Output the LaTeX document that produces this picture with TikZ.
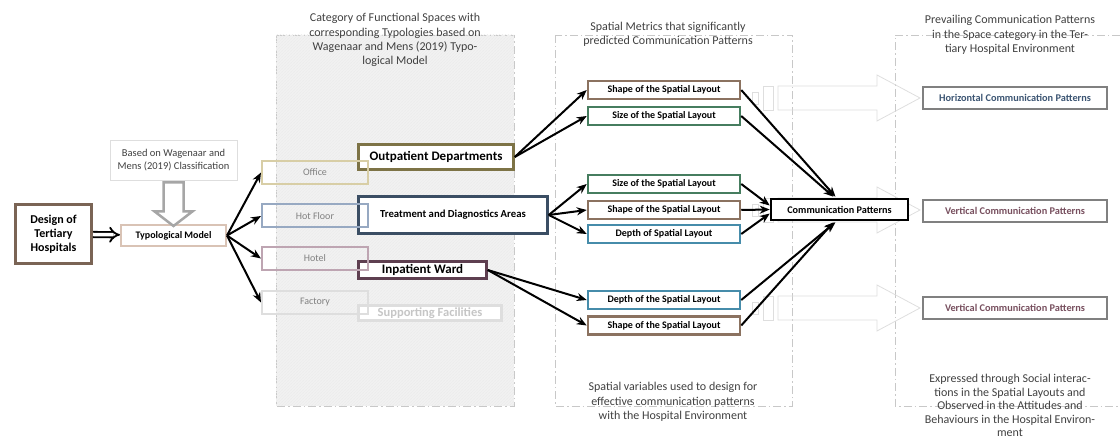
\documentclass[tikz,border=0pt]{standalone}
\usepackage{fontspec}
\setmainfont{Carlito}
\usepackage{xcolor}
\usetikzlibrary{shapes,arrows,arrows.meta,positioning,calc,patterns}
\definecolor{designbrown}{RGB}{122,100,85}
\definecolor{typotan}{RGB}{217,195,181}
\definecolor{officetan}{RGB}{216,206,166}
\definecolor{hotblue}{RGB}{151,169,194}
\definecolor{hotelmauve}{RGB}{190,165,178}
\definecolor{faintgray}{RGB}{222,222,222}
\definecolor{outolive}{RGB}{125,115,70}
\definecolor{treatblue}{RGB}{59,78,100}
\definecolor{inmauve}{RGB}{94,63,80}
\definecolor{shapebrown}{RGB}{139,114,96}
\definecolor{sizegreen}{RGB}{70,125,95}
\definecolor{depthteal}{RGB}{70,140,170}
\definecolor{resultgray}{RGB}{128,128,128}
\definecolor{horizblue}{RGB}{60,85,115}
\definecolor{vertmauve}{RGB}{120,80,95}
\definecolor{titlegray}{RGB}{64,64,64}
\definecolor{regiongray}{RGB}{200,200,200}

\tikzset{
  box/.style={draw, rectangle, inner sep=0pt, align=center},
  typology/.style={box, line width=2pt, minimum width=106pt, minimum height=23pt,
    text=gray, font=\fontsize{10}{11}\selectfont},
  category/.style={box, fill=white, line width=2.5pt, font=\bfseries\fontsize{13}{14}\selectfont},
  metric/.style={box, fill=white, line width=2.5pt, minimum width=152pt, minimum height=18pt,
    font=\bfseries\fontsize{10}{11}\selectfont},
  result/.style={box, fill=white, draw=resultgray, line width=2.5pt, minimum width=184pt,
    minimum height=22pt, font=\bfseries\fontsize{10.3}{11}\selectfont},
  title/.style={align=center, text=titlegray, font=\fontsize{12}{14.2}\selectfont},
  region/.style={draw=regiongray, line width=0.8pt, dash pattern=on 8pt off 3pt on 1.5pt off 3pt},
  link/.style={draw, line width=2pt, -{Stealth[length=10pt,width=8pt]}},
  blockarrow/.style={draw=faintgray, line width=0.8pt}
}

\begin{document}
\begin{tikzpicture}[x=1pt,y=-1pt]
\useasboundingbox (0,0) rectangle (1120,438);

% Column frames
\draw[region, fill=gray!10] (276,35) rectangle (514,406);
\fill[pattern=north east lines, pattern color=gray!15] (276,35) rectangle (514,406);
\draw[region] (555,35) rectangle (792,406);
\draw[region] (1120,35) -- (895,35) -- (895,406) -- (1120,406);

% Column titles
\node[title] (cattitle) at (395,40) {Category of Functional Spaces with\\corresponding Typologies based on\\Wagenaar and Mens (2019) Typo-\\logical Model};
\node[title] (mettitle) at (668,34.5) {Spatial Metrics that significantly\\predicted Communication Patterns};
\node[title] (pattitle) at (1010,35) {Prevailing Communication Patterns\\in the Space category in the Ter-\\tiary Hospital Environment};
\node[title] (metnote) at (673,402) {Spatial variables used to design for\\effective communication patterns\\with the Hospital Environment};
\node[title, font=\fontsize{12}{13.4}\selectfont] (patnote) at (1010,405.5) {Expressed through Social interac-\\tions in the Spatial Layouts and\\Observed in the Attitudes and\\Behaviours in the Hospital Environ-\\ment};

% Design and typological model
\node[box, draw=designbrown, line width=3pt, minimum width=76pt, minimum height=59pt,
  font=\bfseries\fontsize{12}{14}\selectfont] (design) at (53.5,234) {Design of\\Tertiary\\Hospitals};
\node[box, draw=typotan, line width=2pt, minimum width=105pt, minimum height=21pt,
  font=\bfseries\fontsize{10}{11}\selectfont] (typo) at (173.5,235.5) {Typological Model};
\node[box, draw=faintgray, line width=0.8pt, minimum width=127pt, minimum height=40pt,
  text=titlegray, font=\fontsize{10.5}{13}\selectfont] (based) at (173.5,160) {Based on Wagenaar and\\Mens (2019) Classification};

\draw[line width=2.5pt, draw=gray!70, fill=white, line join=miter]
  ($(based.south)+(-10,2)$) -- ++(20,0) -- ++(0,29) -- ++(9,0) -- ($(typo.north)+(0,2)$)
  -- ($(based.south)+(-19,31)$) -- ++(9,0) -- cycle;
\draw[double, double distance=3.5pt, line width=1.8pt, -implies] (design) -- (typo);

% Categories of functional spaces
\node[category, draw=outolive, minimum width=155pt, minimum height=25pt] (outpat) at (436,157) {Outpatient Departments};
\node[category, draw=treatblue, minimum width=189pt, minimum height=37pt,
  font=\bfseries\fontsize{10.7}{12}\selectfont] (treat) at (453,215) {Treatment and Diagnostics Areas};
\node[category, draw=inmauve, minimum width=128pt, minimum height=17pt] (inpat) at (422.5,270) {Inpatient Ward};
\node[category, draw=faintgray, text=gray!45, minimum width=143pt, minimum height=15pt,
  font=\bfseries\fontsize{12.5}{14}\selectfont] (support) at (430,313) {Supporting Facilities};

% Typologies
\node[typology, draw=officetan] (office) at (315,172.5) {Office};
\node[typology, draw=hotblue] (hotfloor) at (315,216) {Hot Floor};
\node[typology, draw=hotelmauve] (hotel) at (315,258.5) {Hotel};
\node[typology, draw=faintgray] (factory) at (315,302.5) {Factory};

\draw[link] (typo.east) -- (office.west);
\draw[link] (typo.east) -- (hotfloor.west);
\draw[link] (typo.east) -- (hotel.west);
\draw[link] (typo.east) -- (factory.west);

% Block arrows to the prevailing patterns
\foreach \y in {98,210,308} {
  \draw[blockarrow] (752,\y-6) rectangle (758,\y+6);
  \draw[blockarrow] (763,\y-12) rectangle (773,\y+12);
  \draw[blockarrow] (778,\y-12) -- (877,\y-12) -- (877,\y-23) -- (920,\y)
    -- (877,\y+23) -- (877,\y+12) -- (778,\y+12) -- cycle;
}

% Spatial metrics
\node[metric, draw=shapebrown] (shapeA) at (664,90) {Shape of the Spatial Layout};
\node[metric, draw=sizegreen] (sizeA) at (664,116) {Size of the Spatial Layout};
\node[metric, draw=sizegreen] (sizeB) at (664,184) {Size of the Spatial Layout};
\node[metric, draw=shapebrown] (shapeB) at (664,210) {Shape of the Spatial Layout};
\node[metric, draw=depthteal] (depthB) at (664,234) {Depth of Spatial Layout};
\node[metric, draw=depthteal] (depthC) at (664,300) {Depth of the Spatial Layout};
\node[metric, draw=shapebrown] (shapeC) at (664,325.5) {Shape of the Spatial Layout};

\node[box, fill=white, line width=2.5pt, minimum width=137pt, minimum height=21pt,
  font=\bfseries\fontsize{10.2}{11}\selectfont] (comm) at (839.5,209.5) {Communication Patterns};

\draw[link] (outpat.east) -- (shapeA.west);
\draw[link] (outpat.east) -- (sizeA.west);
\draw[link] (treat.east) -- (sizeB.west);
\draw[link] (treat.east) -- (shapeB.west);
\draw[link] (treat.east) -- (depthB.west);
\draw[link] (inpat.east) -- (depthC.west);
\draw[link] (inpat.east) -- (shapeC.west);

\draw[link] (shapeA.east) -- ($(comm.north)+(-4,-1)$);
\draw[link] (sizeA.east) -- ($(comm.north)+(-6,-1)$);
\draw[link] (sizeB.east) -- ($(comm.west)+(0,-4)$);
\draw[link] (shapeB.east) -- (comm.west);
\draw[link] (depthB.east) -- ($(comm.west)+(0,4)$);
\draw[link] (depthC.east) -- ($(comm.south)+(-4,1)$);
\draw[link] (shapeC.east) -- ($(comm.south)+(-6,1)$);

% Prevailing communication patterns
\node[result, text=horizblue] (horiz) at (1015,98) {Horizontal Communication Patterns};
\node[result, text=vertmauve] (vertA) at (1015,211) {Vertical Communication Patterns};
\node[result, text=vertmauve] (vertB) at (1015,308) {Vertical Communication Patterns};
\end{tikzpicture}
\end{document}
